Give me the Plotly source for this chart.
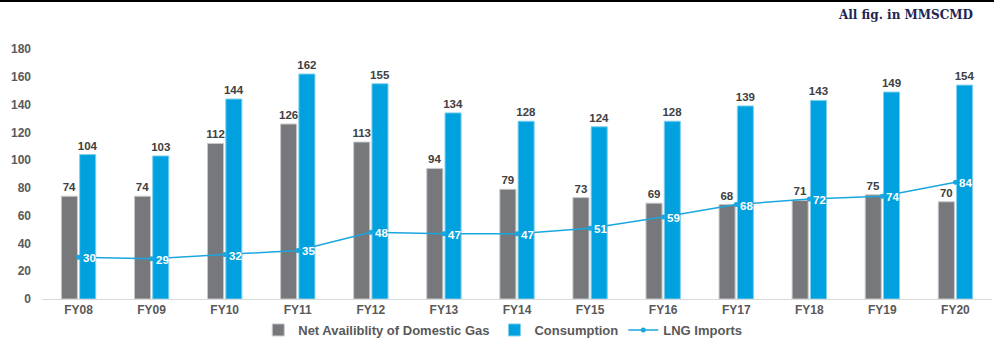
import plotly.graph_objects as go

years = ["FY08", "FY09", "FY10", "FY11", "FY12", "FY13", "FY14", "FY15", "FY16", "FY17", "FY18", "FY19", "FY20"]
domestic = [74, 74, 112, 126, 113, 94, 79, 73, 69, 68, 71, 75, 70]
consumption = [104, 103, 144, 162, 155, 134, 128, 124, 128, 139, 143, 149, 154]
lng = [30, 29, 32, 35, 48, 47, 47, 51, 59, 68, 72, 74, 84]
y_ticks = [0, 20, 40, 60, 80, 100, 120, 140, 160, 180]

label_font = dict(family="Liberation Sans, Arial", size=11.5, color="#404040")

fig = go.Figure()
fig.add_trace(go.Bar(
    x=years, y=domestic, name="<b>Net Availiblity of Domestic Gas</b>",
    marker=dict(color="#77787b", line=dict(color="#c9c9cb", width=1)),
    text=[f"<b>{v}</b>" for v in domestic], textposition="outside",
    textfont=label_font, cliponaxis=False, constraintext="none",
))
fig.add_trace(go.Bar(
    x=years, y=consumption, name="<b>Consumption</b>",
    marker=dict(color="#00a1de", line=dict(color="#7fd0ef", width=1)),
    text=[f"<b>{v}</b>" for v in consumption], textposition="outside",
    textfont=label_font, cliponaxis=False, constraintext="none",
))
fig.add_trace(go.Scatter(
    x=years, y=lng, name="<b>LNG Imports</b>", mode="lines+markers",
    line=dict(color="#1aa6de", width=1.5), marker=dict(size=5, color="#1aa6de"),
    cliponaxis=False,
))
for yr, v in zip(years, lng):
    fig.add_annotation(x=yr, y=v, text=f"<b>{v}</b>", showarrow=False, xanchor="left",
                       yanchor="middle", xshift=3, yshift=-1, borderpad=0,
                       font=dict(family="Liberation Sans, Arial", size=11.5, color="white"))

fig.update_layout(
    width=994, height=343,
    margin=dict(l=42, r=2, t=49, b=44, autoexpand=False),
    paper_bgcolor="white", plot_bgcolor="white",
    barmode="group", bargap=0.5, bargroupgap=0.12,
    showlegend=True,
    legend=dict(orientation="h", x=0.485, xanchor="center", y=-0.124, yanchor="middle",
                font=dict(family="Liberation Sans, Arial", size=13, color="#595959"),
                itemwidth=30, traceorder="normal"),
    font=dict(family="Liberation Sans, Arial"),
    xaxis=dict(range=[-0.5, 12.5], showgrid=False, showline=True, linecolor="#d9d9d9",
               linewidth=1, ticks="", tickfont=dict(size=12, color="#595959"),
               tickvals=years, ticktext=[f"<b>{y}</b>" for y in years], automargin=False),
    yaxis=dict(range=[0, 180], showgrid=False, zeroline=False, showline=False,
               tickvals=y_ticks, ticktext=[f"<b>{t}</b>" for t in y_ticks], automargin=False,
               tickfont=dict(size=12, color="#595959"), ticklen=0, ticks="", ticklabelstandoff=10),
    shapes=[dict(type="line", xref="paper", yref="paper", x0=-0.06, x1=1.06,
                 y0=1.192, y1=1.192, line=dict(color="black", width=2))],
)
fig.add_annotation(text="<b>All fig. in MMSCMD</b>", xref="paper", yref="paper",
                   x=0.982, y=1.136, xanchor="right", yanchor="middle", showarrow=False,
                   font=dict(family="DejaVu Serif, Liberation Serif", size=12, color="#1f2455"))

fig.write_html("out.html")
